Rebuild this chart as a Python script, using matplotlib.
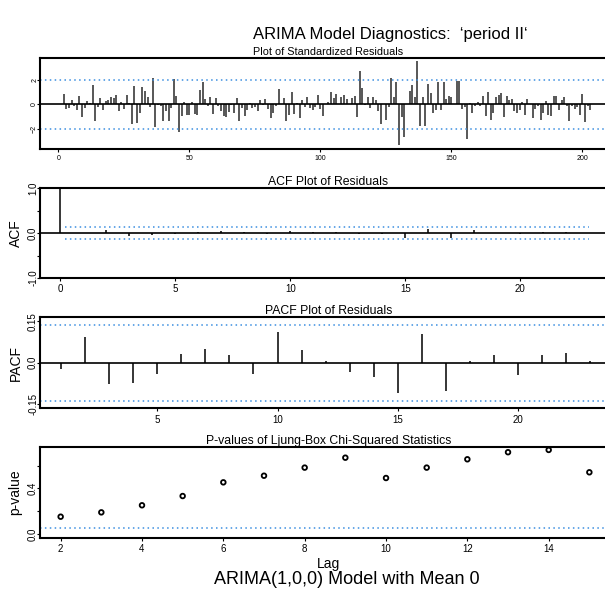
import matplotlib
matplotlib.use("Agg")
import matplotlib.pyplot as plt
import numpy as np

plt.rcParams['font.family'] = ['Liberation Sans', 'DejaVu Sans']

# standardized residuals, t = 1..203
resid = [
    0.03, 0.84, -0.38, -0.30, 0.32, -0.10, -0.43, 0.70, -1.03, -0.30,
    0.27, 0.08, 1.60, -1.38, -0.24, 0.50, -0.43, 0.24, 0.38, 0.60,
    0.49, 0.73, -0.57, 0.16, -0.38, 0.76, 0.10, -1.60, 1.51, -1.54,
    -0.70, 1.38, 1.10, 0.60, -0.19, 2.14, -1.86, -0.05, -0.16, -1.32,
    -0.51, -1.32, -0.30, 2.08, 0.68, -2.27, -0.97, 0.19, -0.84, -0.84,
    0.16, -0.78, -0.84, 1.16, 1.81, 0.43, -0.16, 0.57, -0.76, 0.51,
    -0.16, -0.57, -0.92, -1.05, -0.65, -0.05, -0.70, 0.51, -1.32, -0.30,
    -0.97, -0.43, 0.10, -0.30, -0.22, -0.51, 0.35, -0.05, 0.43, -0.35,
    -1.11, -0.70, -0.10, 1.27, 0.05, 0.51, -1.32, -0.84, 1.03, -0.78,
    0.10, -1.11, 0.35, -0.22, 0.60, -0.30, -0.43, -0.20, 0.76, -0.35,
    -0.92, 0.05, 0.16, 1.00, 0.51, 0.86, 0.05, 0.62, 0.76, 0.46,
    0.05, 0.54, 0.70, -1.05, 2.73, 1.35, -0.05, 0.57, -0.32, 0.60,
    0.32, -0.57, -1.60, 0.05, -1.27, -0.22, 2.14, 0.57, 1.81, -3.32,
    -1.05, -2.68, 0.05, 1.11, 1.59, 0.57, 3.54, -1.78, 0.60, -1.78,
    1.68, 0.92, -0.70, -0.43, 1.78, -0.43, 1.78, 0.43, 0.68, 0.62,
    0.05, 1.86, 1.92, -0.38, -0.22, -2.81, 0.10, -0.70, -0.16, 0.16,
    -0.16, 0.68, -0.92, 1.03, -1.30, -0.70, 0.57, 0.76, 0.92, -1.03,
    0.65, 0.35, 0.46, -0.57, -0.70, -0.43, 0.16, -0.84, 0.43, 0.05,
    -1.11, -0.38, -0.16, -1.24, -0.70, 0.24, -0.84, -0.97, 0.70, 0.70,
    -0.43, 0.38, 0.60, -0.16, -1.38, -0.16, -0.38, -0.22, -0.84, 0.84,
    -1.46, -0.16, -0.43,
]

acf_vals = [1.0, 0.01, 0.08, -0.07, -0.05, -0.01, 0.02, 0.04, 0.02, -0.03,
            0.04, 0.03, 0.02, -0.02, -0.03, -0.10, 0.09, -0.10, 0.06, 0.01,
            -0.01, 0.02, 0.03, 0.01]

pacf_vals = [-0.024, 0.092, -0.077, -0.075, -0.039, 0.031, 0.049, 0.027, -0.040,
             0.110, 0.048, 0.006, -0.032, -0.053, -0.108, 0.104, -0.101, 0.005,
             0.027, -0.044, 0.028, 0.037, 0.005]

lb_lags = [2, 3, 4, 5, 6, 7, 8, 9, 10, 11, 12, 13, 14, 15]
lb_pvals = [0.152, 0.190, 0.252, 0.333, 0.453, 0.511, 0.582, 0.669, 0.491,
            0.582, 0.655, 0.717, 0.737, 0.541]

n = len(resid)
band = 1.96 / np.sqrt(n)
dot_col = '#3b8ee0'
dots = (0, (1, 2.2))

W, H = 605, 592
fig = plt.figure(figsize=(W / 100, H / 100), dpi=100)


def make_ax(top, bottom):
    # pixel rows -> figure fraction, right edge cropped like the original
    ax = fig.add_axes([39.5 / W, 1 - bottom / H, 1.02 - 39.5 / W, (bottom - top) / H])
    for s in ['top', 'bottom', 'left', 'right']:
        ax.spines[s].set_linewidth(1.5)
    ax.tick_params(direction='out', length=2.5, width=0.8, pad=2)
    ax.tick_params(axis='y', pad=-1.5)
    return ax


def rot_y(ax):
    for lab in ax.get_yticklabels():
        lab.set_rotation(90)
        lab.set_va('center')


# --- standardized residuals
ax1 = make_ax(57.7, 148.7)
t = np.arange(1, n + 1)
ax1.vlines(t, 0, resid, color='#2a2a2a', lw=1.1)
ax1.axhline(0, color='black', lw=1.2)
ax1.axhline(2, color=dot_col, lw=1.1, ls=dots)
ax1.axhline(-2, color=dot_col, lw=1.1, ls=dots)
ax1.set_xlim(-7.25, -7.25 + (W * 1.02 - 39.5) / 2.62)
ax1.set_ylim(-3.61, 3.79)
ax1.set_xticks([0, 50, 100, 150, 200])
ax1.set_yticks([-2, 0, 2])
ax1.tick_params(labelsize=5)
rot_y(ax1)
ax1.set_title("Plot of Standardized Residuals", fontsize=7.8, pad=2)

# --- ACF
ax2 = make_ax(188.3, 278)
lags = np.arange(len(acf_vals))
ax2.vlines(lags, 0, acf_vals, color='black', lw=1.1)
ax2.axhline(0, color='black', lw=1.2)
ax2.hlines([band, -band], 0.2, 23, color=dot_col, lw=1.1, ls=dots)
ax2.set_xlim(-0.91, -0.91 + (W * 1.02 - 39.5) / 23)
ax2.set_ylim(-1, 1)
ax2.set_xticks([0, 5, 10, 15, 20])
ax2.set_yticks([-1, -0.5, 0, 0.5, 1])
ax2.set_yticklabels(['-1.0', '', '0.0', '', '1.0'])
ax2.tick_params(labelsize=7)
rot_y(ax2)
ax2.set_ylabel("ACF", fontsize=10, labelpad=4)
ax2.set_title("ACF Plot of Residuals", fontsize=8.8, pad=2)

# --- PACF
ax3 = make_ax(317.3, 408.3)
plags = np.arange(1, len(pacf_vals) + 1)
ax3.vlines(plags, 0, pacf_vals, color='black', lw=1.1)
ax3.axhline(0, color='black', lw=1.2)
ax3.axhline(band, color=dot_col, lw=1.1, ls=dots)
ax3.axhline(-band, color=dot_col, lw=1.1, ls=dots)
ax3.set_xlim(0.11, 0.11 + (W * 1.02 - 39.5) / 24.07)
ax3.set_ylim(-0.165, 0.165)
ax3.set_xticks([5, 10, 15, 20])
ax3.set_yticks([-0.15, 0, 0.15])
ax3.set_yticklabels(['-0.15', '0.0', '0.15'])
ax3.tick_params(labelsize=7)
rot_y(ax3)
ax3.set_ylabel("PACF", fontsize=10, labelpad=4)
ax3.set_title("PACF Plot of Residuals", fontsize=8.8, pad=2)

# --- Ljung-Box p-values
ax4 = make_ax(447.3, 537.7)
ax4.scatter(lb_lags, lb_pvals, s=11, facecolors='none', edgecolors='black', linewidths=1.3)
ax4.axhline(0.05, color=dot_col, lw=1.1, ls=dots)
ax4.set_xlim(1.48, 1.48 + (W * 1.02 - 39.5) / 40.67)
ax4.set_ylim(-0.032, 0.76)
ax4.set_xticks([2, 4, 6, 8, 10, 12, 14])
ax4.set_yticks([0, 0.2, 0.4, 0.6])
ax4.set_yticklabels(['0.0', '', '0.4', ''])
ax4.tick_params(labelsize=7)
rot_y(ax4)
ax4.set_ylabel("p-value", fontsize=10, labelpad=4)
ax4.set_xlabel("Lag", fontsize=10, labelpad=2)
ax4.set_title("P-values of Ljung-Box Chi-Squared Statistics", fontsize=8.8, pad=2)

fig.text(390 / W, 1 - 35 / H, "ARIMA Model Diagnostics:  \u2018period II\u2018",
         ha='center', va='center', fontsize=12)
fig.text(347 / W, 1 - 580 / H, "ARIMA(1,0,0) Model with Mean 0",
         ha='center', va='center', fontsize=13)

fig.savefig("out.png", dpi=100)
